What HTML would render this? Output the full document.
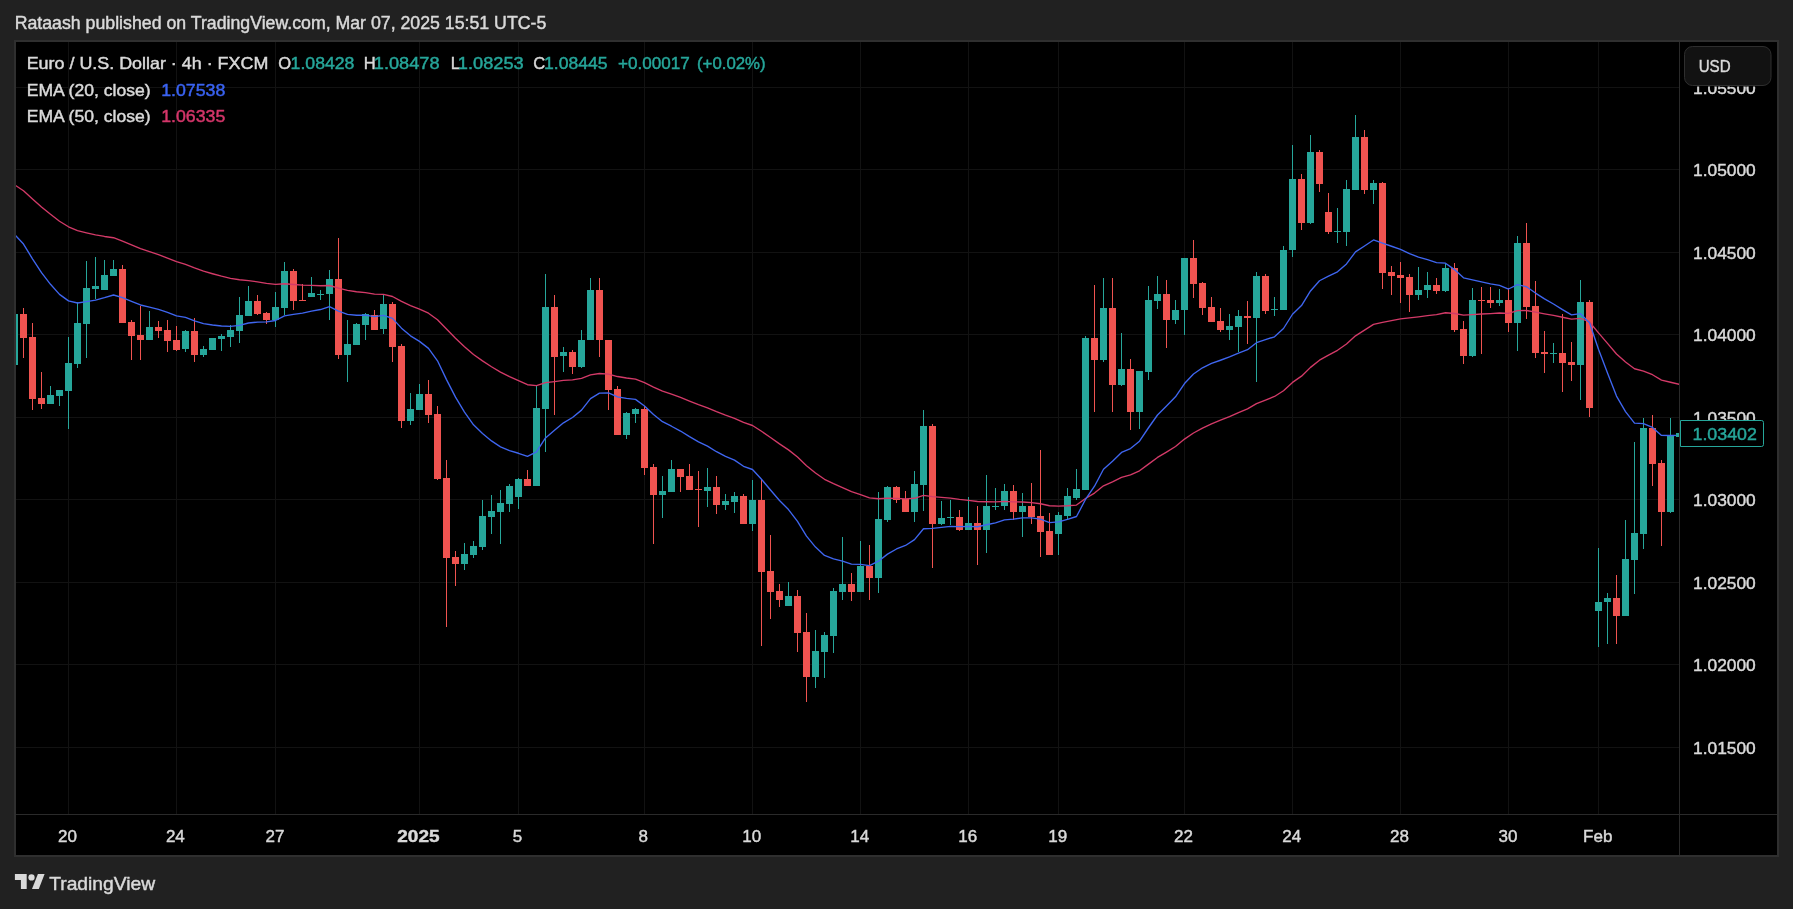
<!DOCTYPE html>
<html><head><meta charset="utf-8"><title>EURUSD chart</title><style>
html,body{margin:0;padding:0;background:#212121;}
body{width:1793px;height:909px;overflow:hidden;position:relative;}
svg{position:absolute;left:0;top:0;display:block;will-change:transform;}
text{font-family:"Liberation Sans",sans-serif;}
</style></head><body>
<svg width="1793" height="909" viewBox="0 0 1793 909">
<rect width="1793" height="909" fill="#212121"/>
<rect x="14" y="40" width="1765" height="817" fill="#2f2f2f"/>
<rect x="16" y="42" width="1761" height="813" fill="#000"/>
<rect x="16" y="87" width="1663" height="1" fill="#121212"/><rect x="16" y="169" width="1663" height="1" fill="#121212"/><rect x="16" y="252" width="1663" height="1" fill="#121212"/><rect x="16" y="334" width="1663" height="1" fill="#121212"/><rect x="16" y="417" width="1663" height="1" fill="#121212"/><rect x="16" y="499" width="1663" height="1" fill="#121212"/><rect x="16" y="582" width="1663" height="1" fill="#121212"/><rect x="16" y="664" width="1663" height="1" fill="#121212"/><rect x="16" y="747" width="1663" height="1" fill="#121212"/><rect x="68" y="42" width="1" height="772" fill="#121212"/><rect x="176" y="42" width="1" height="772" fill="#121212"/><rect x="275" y="42" width="1" height="772" fill="#121212"/><rect x="419" y="42" width="1" height="772" fill="#121212"/><rect x="518" y="42" width="1" height="772" fill="#121212"/><rect x="644" y="42" width="1" height="772" fill="#121212"/><rect x="752" y="42" width="1" height="772" fill="#121212"/><rect x="860" y="42" width="1" height="772" fill="#121212"/><rect x="968" y="42" width="1" height="772" fill="#121212"/><rect x="1058" y="42" width="1" height="772" fill="#121212"/><rect x="1184" y="42" width="1" height="772" fill="#121212"/><rect x="1292" y="42" width="1" height="772" fill="#121212"/><rect x="1400" y="42" width="1" height="772" fill="#121212"/><rect x="1508" y="42" width="1" height="772" fill="#121212"/><rect x="1598" y="42" width="1" height="772" fill="#121212"/>
<rect x="16" y="814" width="1761" height="1" fill="#2a2a2a"/>
<rect x="1679" y="42" width="1" height="813" fill="#2a2a2a"/>
<defs><clipPath id="pane"><rect x="16" y="41" width="1663" height="773"/></clipPath></defs>
<g clip-path="url(#pane)" shape-rendering="crispEdges">
<rect x="14" y="310" width="1" height="60" fill="#26a69a"/><rect x="11" y="314" width="7" height="51" fill="#26a69a"/><rect x="23" y="308" width="1" height="50" fill="#ef5350"/><rect x="20" y="314" width="7" height="24" fill="#ef5350"/><rect x="32" y="323" width="1" height="87" fill="#ef5350"/><rect x="29" y="337" width="7" height="62" fill="#ef5350"/><rect x="41" y="372" width="1" height="37" fill="#ef5350"/><rect x="38" y="398" width="7" height="6" fill="#ef5350"/><rect x="50" y="386" width="1" height="18" fill="#26a69a"/><rect x="47" y="395" width="7" height="9" fill="#26a69a"/><rect x="59" y="390" width="1" height="16" fill="#26a69a"/><rect x="56" y="390" width="7" height="6" fill="#26a69a"/><rect x="68" y="337" width="1" height="92" fill="#26a69a"/><rect x="65" y="363" width="7" height="28" fill="#26a69a"/><rect x="77" y="302" width="1" height="66" fill="#26a69a"/><rect x="74" y="323" width="7" height="41" fill="#26a69a"/><rect x="86" y="261" width="1" height="97" fill="#26a69a"/><rect x="83" y="288" width="7" height="36" fill="#26a69a"/><rect x="95" y="257" width="1" height="42" fill="#26a69a"/><rect x="92" y="286" width="7" height="3" fill="#26a69a"/><rect x="104" y="260" width="1" height="30" fill="#26a69a"/><rect x="101" y="275" width="7" height="15" fill="#26a69a"/><rect x="113" y="260" width="1" height="16" fill="#26a69a"/><rect x="110" y="269" width="7" height="7" fill="#26a69a"/><rect x="122" y="265" width="1" height="58" fill="#ef5350"/><rect x="119" y="269" width="7" height="54" fill="#ef5350"/><rect x="131" y="320" width="1" height="40" fill="#ef5350"/><rect x="128" y="322" width="7" height="14" fill="#ef5350"/><rect x="140" y="306" width="1" height="54" fill="#ef5350"/><rect x="137" y="335" width="7" height="5" fill="#ef5350"/><rect x="149" y="311" width="1" height="29" fill="#26a69a"/><rect x="146" y="327" width="7" height="13" fill="#26a69a"/><rect x="158" y="321" width="1" height="17" fill="#ef5350"/><rect x="155" y="327" width="7" height="4" fill="#ef5350"/><rect x="167" y="320" width="1" height="32" fill="#ef5350"/><rect x="164" y="330" width="7" height="11" fill="#ef5350"/><rect x="176" y="326" width="1" height="25" fill="#ef5350"/><rect x="173" y="340" width="7" height="10" fill="#ef5350"/><rect x="185" y="330" width="1" height="22" fill="#26a69a"/><rect x="182" y="331" width="7" height="18" fill="#26a69a"/><rect x="194" y="318" width="1" height="44" fill="#ef5350"/><rect x="191" y="331" width="7" height="24" fill="#ef5350"/><rect x="203" y="346" width="1" height="11" fill="#26a69a"/><rect x="200" y="349" width="7" height="6" fill="#26a69a"/><rect x="212" y="338" width="1" height="12" fill="#26a69a"/><rect x="209" y="338" width="7" height="12" fill="#26a69a"/><rect x="221" y="334" width="1" height="17" fill="#26a69a"/><rect x="218" y="336" width="7" height="3" fill="#26a69a"/><rect x="230" y="325" width="1" height="22" fill="#26a69a"/><rect x="227" y="330" width="7" height="7" fill="#26a69a"/><rect x="239" y="297" width="1" height="46" fill="#26a69a"/><rect x="236" y="315" width="7" height="16" fill="#26a69a"/><rect x="248" y="286" width="1" height="30" fill="#26a69a"/><rect x="245" y="301" width="7" height="15" fill="#26a69a"/><rect x="257" y="295" width="1" height="20" fill="#ef5350"/><rect x="254" y="301" width="7" height="13" fill="#ef5350"/><rect x="266" y="312" width="1" height="12" fill="#ef5350"/><rect x="263" y="313" width="7" height="7" fill="#ef5350"/><rect x="275" y="292" width="1" height="35" fill="#26a69a"/><rect x="272" y="307" width="7" height="13" fill="#26a69a"/><rect x="284" y="262" width="1" height="53" fill="#26a69a"/><rect x="281" y="271" width="7" height="37" fill="#26a69a"/><rect x="293" y="269" width="1" height="41" fill="#ef5350"/><rect x="290" y="271" width="7" height="30" fill="#ef5350"/><rect x="302" y="284" width="1" height="17" fill="#ef5350"/><rect x="299" y="300" width="7" height="1" fill="#ef5350"/><rect x="311" y="277" width="1" height="20" fill="#26a69a"/><rect x="308" y="293" width="7" height="4" fill="#26a69a"/><rect x="320" y="290" width="1" height="10" fill="#26a69a"/><rect x="317" y="294" width="7" height="1" fill="#26a69a"/><rect x="329" y="270" width="1" height="50" fill="#26a69a"/><rect x="326" y="279" width="7" height="15" fill="#26a69a"/><rect x="338" y="238" width="1" height="121" fill="#ef5350"/><rect x="335" y="279" width="7" height="76" fill="#ef5350"/><rect x="347" y="320" width="1" height="62" fill="#26a69a"/><rect x="344" y="344" width="7" height="11" fill="#26a69a"/><rect x="356" y="323" width="1" height="22" fill="#26a69a"/><rect x="353" y="324" width="7" height="21" fill="#26a69a"/><rect x="365" y="313" width="1" height="27" fill="#26a69a"/><rect x="362" y="314" width="7" height="11" fill="#26a69a"/><rect x="374" y="310" width="1" height="20" fill="#ef5350"/><rect x="371" y="315" width="7" height="15" fill="#ef5350"/><rect x="383" y="294" width="1" height="40" fill="#26a69a"/><rect x="380" y="304" width="7" height="25" fill="#26a69a"/><rect x="392" y="302" width="1" height="60" fill="#ef5350"/><rect x="389" y="304" width="7" height="43" fill="#ef5350"/><rect x="401" y="344" width="1" height="84" fill="#ef5350"/><rect x="398" y="346" width="7" height="75" fill="#ef5350"/><rect x="410" y="393" width="1" height="32" fill="#26a69a"/><rect x="407" y="409" width="7" height="12" fill="#26a69a"/><rect x="419" y="384" width="1" height="26" fill="#26a69a"/><rect x="416" y="394" width="7" height="16" fill="#26a69a"/><rect x="428" y="380" width="1" height="43" fill="#ef5350"/><rect x="425" y="394" width="7" height="21" fill="#ef5350"/><rect x="437" y="406" width="1" height="74" fill="#ef5350"/><rect x="434" y="414" width="7" height="65" fill="#ef5350"/><rect x="446" y="460" width="1" height="167" fill="#ef5350"/><rect x="443" y="478" width="7" height="80" fill="#ef5350"/><rect x="455" y="551" width="1" height="35" fill="#ef5350"/><rect x="452" y="557" width="7" height="7" fill="#ef5350"/><rect x="464" y="543" width="1" height="27" fill="#26a69a"/><rect x="461" y="554" width="7" height="10" fill="#26a69a"/><rect x="473" y="541" width="1" height="17" fill="#26a69a"/><rect x="470" y="546" width="7" height="9" fill="#26a69a"/><rect x="482" y="500" width="1" height="50" fill="#26a69a"/><rect x="479" y="516" width="7" height="31" fill="#26a69a"/><rect x="491" y="495" width="1" height="39" fill="#26a69a"/><rect x="488" y="511" width="7" height="6" fill="#26a69a"/><rect x="500" y="490" width="1" height="54" fill="#26a69a"/><rect x="497" y="503" width="7" height="9" fill="#26a69a"/><rect x="509" y="484" width="1" height="28" fill="#26a69a"/><rect x="506" y="486" width="7" height="18" fill="#26a69a"/><rect x="518" y="478" width="1" height="31" fill="#26a69a"/><rect x="515" y="479" width="7" height="18" fill="#26a69a"/><rect x="527" y="470" width="1" height="16" fill="#ef5350"/><rect x="524" y="479" width="7" height="7" fill="#ef5350"/><rect x="536" y="386" width="1" height="100" fill="#26a69a"/><rect x="533" y="408" width="7" height="78" fill="#26a69a"/><rect x="545" y="274" width="1" height="178" fill="#26a69a"/><rect x="542" y="307" width="7" height="102" fill="#26a69a"/><rect x="554" y="295" width="1" height="120" fill="#ef5350"/><rect x="551" y="307" width="7" height="50" fill="#ef5350"/><rect x="563" y="347" width="1" height="25" fill="#26a69a"/><rect x="560" y="352" width="7" height="4" fill="#26a69a"/><rect x="572" y="350" width="1" height="24" fill="#ef5350"/><rect x="569" y="352" width="7" height="15" fill="#ef5350"/><rect x="581" y="330" width="1" height="38" fill="#26a69a"/><rect x="578" y="340" width="7" height="27" fill="#26a69a"/><rect x="590" y="278" width="1" height="62" fill="#26a69a"/><rect x="587" y="290" width="7" height="50" fill="#26a69a"/><rect x="599" y="278" width="1" height="79" fill="#ef5350"/><rect x="596" y="290" width="7" height="50" fill="#ef5350"/><rect x="608" y="340" width="1" height="70" fill="#ef5350"/><rect x="605" y="340" width="7" height="50" fill="#ef5350"/><rect x="617" y="386" width="1" height="49" fill="#ef5350"/><rect x="614" y="389" width="7" height="46" fill="#ef5350"/><rect x="626" y="412" width="1" height="27" fill="#26a69a"/><rect x="623" y="413" width="7" height="22" fill="#26a69a"/><rect x="635" y="408" width="1" height="15" fill="#26a69a"/><rect x="632" y="409" width="7" height="5" fill="#26a69a"/><rect x="644" y="406" width="1" height="69" fill="#ef5350"/><rect x="641" y="409" width="7" height="59" fill="#ef5350"/><rect x="653" y="464" width="1" height="80" fill="#ef5350"/><rect x="650" y="467" width="7" height="28" fill="#ef5350"/><rect x="662" y="476" width="1" height="42" fill="#26a69a"/><rect x="659" y="491" width="7" height="4" fill="#26a69a"/><rect x="671" y="460" width="1" height="32" fill="#26a69a"/><rect x="668" y="469" width="7" height="23" fill="#26a69a"/><rect x="680" y="469" width="1" height="23" fill="#ef5350"/><rect x="677" y="469" width="7" height="8" fill="#ef5350"/><rect x="689" y="464" width="1" height="26" fill="#ef5350"/><rect x="686" y="476" width="7" height="14" fill="#ef5350"/><rect x="698" y="471" width="1" height="56" fill="#ef5350"/><rect x="695" y="489" width="7" height="1" fill="#ef5350"/><rect x="707" y="468" width="1" height="39" fill="#26a69a"/><rect x="704" y="487" width="7" height="4" fill="#26a69a"/><rect x="716" y="476" width="1" height="38" fill="#ef5350"/><rect x="713" y="487" width="7" height="18" fill="#ef5350"/><rect x="725" y="494" width="1" height="16" fill="#26a69a"/><rect x="722" y="501" width="7" height="4" fill="#26a69a"/><rect x="734" y="492" width="1" height="21" fill="#26a69a"/><rect x="731" y="496" width="7" height="6" fill="#26a69a"/><rect x="743" y="494" width="1" height="30" fill="#ef5350"/><rect x="740" y="496" width="7" height="28" fill="#ef5350"/><rect x="752" y="480" width="1" height="51" fill="#26a69a"/><rect x="749" y="500" width="7" height="24" fill="#26a69a"/><rect x="761" y="480" width="1" height="166" fill="#ef5350"/><rect x="758" y="500" width="7" height="72" fill="#ef5350"/><rect x="770" y="535" width="1" height="84" fill="#ef5350"/><rect x="767" y="571" width="7" height="21" fill="#ef5350"/><rect x="779" y="584" width="1" height="23" fill="#ef5350"/><rect x="776" y="591" width="7" height="9" fill="#ef5350"/><rect x="788" y="582" width="1" height="24" fill="#26a69a"/><rect x="785" y="596" width="7" height="10" fill="#26a69a"/><rect x="797" y="590" width="1" height="62" fill="#ef5350"/><rect x="794" y="596" width="7" height="37" fill="#ef5350"/><rect x="806" y="613" width="1" height="89" fill="#ef5350"/><rect x="803" y="632" width="7" height="45" fill="#ef5350"/><rect x="815" y="630" width="1" height="58" fill="#26a69a"/><rect x="812" y="651" width="7" height="26" fill="#26a69a"/><rect x="824" y="632" width="1" height="46" fill="#26a69a"/><rect x="821" y="635" width="7" height="17" fill="#26a69a"/><rect x="833" y="588" width="1" height="65" fill="#26a69a"/><rect x="830" y="591" width="7" height="45" fill="#26a69a"/><rect x="842" y="537" width="1" height="63" fill="#26a69a"/><rect x="839" y="584" width="7" height="8" fill="#26a69a"/><rect x="851" y="573" width="1" height="28" fill="#ef5350"/><rect x="848" y="584" width="7" height="8" fill="#ef5350"/><rect x="860" y="541" width="1" height="51" fill="#26a69a"/><rect x="857" y="566" width="7" height="26" fill="#26a69a"/><rect x="869" y="545" width="1" height="55" fill="#ef5350"/><rect x="866" y="566" width="7" height="12" fill="#ef5350"/><rect x="878" y="492" width="1" height="101" fill="#26a69a"/><rect x="875" y="519" width="7" height="59" fill="#26a69a"/><rect x="887" y="486" width="1" height="36" fill="#26a69a"/><rect x="884" y="487" width="7" height="33" fill="#26a69a"/><rect x="896" y="486" width="1" height="17" fill="#ef5350"/><rect x="893" y="487" width="7" height="13" fill="#ef5350"/><rect x="905" y="491" width="1" height="21" fill="#ef5350"/><rect x="902" y="499" width="7" height="13" fill="#ef5350"/><rect x="914" y="471" width="1" height="51" fill="#26a69a"/><rect x="911" y="484" width="7" height="28" fill="#26a69a"/><rect x="923" y="410" width="1" height="101" fill="#26a69a"/><rect x="920" y="426" width="7" height="59" fill="#26a69a"/><rect x="932" y="424" width="1" height="144" fill="#ef5350"/><rect x="929" y="426" width="7" height="98" fill="#ef5350"/><rect x="941" y="501" width="1" height="24" fill="#26a69a"/><rect x="938" y="518" width="7" height="6" fill="#26a69a"/><rect x="950" y="500" width="1" height="25" fill="#26a69a"/><rect x="947" y="517" width="7" height="1" fill="#26a69a"/><rect x="959" y="510" width="1" height="21" fill="#ef5350"/><rect x="956" y="517" width="7" height="13" fill="#ef5350"/><rect x="968" y="497" width="1" height="33" fill="#26a69a"/><rect x="965" y="523" width="7" height="7" fill="#26a69a"/><rect x="977" y="506" width="1" height="59" fill="#ef5350"/><rect x="974" y="523" width="7" height="7" fill="#ef5350"/><rect x="986" y="475" width="1" height="78" fill="#26a69a"/><rect x="983" y="506" width="7" height="24" fill="#26a69a"/><rect x="995" y="488" width="1" height="22" fill="#26a69a"/><rect x="992" y="506" width="7" height="1" fill="#26a69a"/><rect x="1004" y="484" width="1" height="26" fill="#26a69a"/><rect x="1001" y="491" width="7" height="15" fill="#26a69a"/><rect x="1013" y="485" width="1" height="35" fill="#ef5350"/><rect x="1010" y="491" width="7" height="21" fill="#ef5350"/><rect x="1022" y="493" width="1" height="44" fill="#26a69a"/><rect x="1019" y="506" width="7" height="6" fill="#26a69a"/><rect x="1031" y="483" width="1" height="41" fill="#ef5350"/><rect x="1028" y="506" width="7" height="11" fill="#ef5350"/><rect x="1040" y="450" width="1" height="107" fill="#ef5350"/><rect x="1037" y="516" width="7" height="16" fill="#ef5350"/><rect x="1049" y="513" width="1" height="42" fill="#ef5350"/><rect x="1046" y="531" width="7" height="24" fill="#ef5350"/><rect x="1058" y="512" width="1" height="43" fill="#26a69a"/><rect x="1055" y="515" width="7" height="19" fill="#26a69a"/><rect x="1067" y="488" width="1" height="32" fill="#26a69a"/><rect x="1064" y="496" width="7" height="20" fill="#26a69a"/><rect x="1076" y="469" width="1" height="31" fill="#26a69a"/><rect x="1073" y="489" width="7" height="9" fill="#26a69a"/><rect x="1085" y="336" width="1" height="154" fill="#26a69a"/><rect x="1082" y="338" width="7" height="152" fill="#26a69a"/><rect x="1094" y="285" width="1" height="127" fill="#ef5350"/><rect x="1091" y="338" width="7" height="22" fill="#ef5350"/><rect x="1103" y="278" width="1" height="84" fill="#26a69a"/><rect x="1100" y="308" width="7" height="52" fill="#26a69a"/><rect x="1112" y="278" width="1" height="134" fill="#ef5350"/><rect x="1109" y="308" width="7" height="77" fill="#ef5350"/><rect x="1121" y="333" width="1" height="53" fill="#26a69a"/><rect x="1118" y="369" width="7" height="16" fill="#26a69a"/><rect x="1130" y="359" width="1" height="71" fill="#ef5350"/><rect x="1127" y="369" width="7" height="43" fill="#ef5350"/><rect x="1139" y="371" width="1" height="58" fill="#26a69a"/><rect x="1136" y="371" width="7" height="41" fill="#26a69a"/><rect x="1148" y="286" width="1" height="94" fill="#26a69a"/><rect x="1145" y="300" width="7" height="72" fill="#26a69a"/><rect x="1157" y="276" width="1" height="33" fill="#26a69a"/><rect x="1154" y="294" width="7" height="7" fill="#26a69a"/><rect x="1166" y="280" width="1" height="68" fill="#ef5350"/><rect x="1163" y="294" width="7" height="26" fill="#ef5350"/><rect x="1175" y="300" width="1" height="24" fill="#26a69a"/><rect x="1172" y="310" width="7" height="10" fill="#26a69a"/><rect x="1184" y="258" width="1" height="77" fill="#26a69a"/><rect x="1181" y="258" width="7" height="52" fill="#26a69a"/><rect x="1193" y="240" width="1" height="58" fill="#ef5350"/><rect x="1190" y="258" width="7" height="26" fill="#ef5350"/><rect x="1202" y="282" width="1" height="33" fill="#ef5350"/><rect x="1199" y="283" width="7" height="25" fill="#ef5350"/><rect x="1211" y="297" width="1" height="25" fill="#ef5350"/><rect x="1208" y="307" width="7" height="15" fill="#ef5350"/><rect x="1220" y="308" width="1" height="24" fill="#ef5350"/><rect x="1217" y="321" width="7" height="9" fill="#ef5350"/><rect x="1229" y="314" width="1" height="26" fill="#26a69a"/><rect x="1226" y="326" width="7" height="4" fill="#26a69a"/><rect x="1238" y="310" width="1" height="42" fill="#26a69a"/><rect x="1235" y="316" width="7" height="11" fill="#26a69a"/><rect x="1247" y="301" width="1" height="43" fill="#ef5350"/><rect x="1244" y="316" width="7" height="2" fill="#ef5350"/><rect x="1256" y="272" width="1" height="110" fill="#26a69a"/><rect x="1253" y="276" width="7" height="42" fill="#26a69a"/><rect x="1265" y="274" width="1" height="40" fill="#ef5350"/><rect x="1262" y="276" width="7" height="35" fill="#ef5350"/><rect x="1274" y="297" width="1" height="19" fill="#26a69a"/><rect x="1271" y="309" width="7" height="1" fill="#26a69a"/><rect x="1283" y="246" width="1" height="64" fill="#26a69a"/><rect x="1280" y="250" width="7" height="60" fill="#26a69a"/><rect x="1292" y="145" width="1" height="112" fill="#26a69a"/><rect x="1289" y="179" width="7" height="71" fill="#26a69a"/><rect x="1301" y="174" width="1" height="56" fill="#ef5350"/><rect x="1298" y="179" width="7" height="44" fill="#ef5350"/><rect x="1310" y="135" width="1" height="89" fill="#26a69a"/><rect x="1307" y="152" width="7" height="71" fill="#26a69a"/><rect x="1319" y="150" width="1" height="42" fill="#ef5350"/><rect x="1316" y="152" width="7" height="32" fill="#ef5350"/><rect x="1328" y="193" width="1" height="41" fill="#ef5350"/><rect x="1325" y="212" width="7" height="20" fill="#ef5350"/><rect x="1337" y="208" width="1" height="35" fill="#26a69a"/><rect x="1334" y="231" width="7" height="1" fill="#26a69a"/><rect x="1346" y="180" width="1" height="66" fill="#26a69a"/><rect x="1343" y="189" width="7" height="43" fill="#26a69a"/><rect x="1355" y="115" width="1" height="75" fill="#26a69a"/><rect x="1352" y="137" width="7" height="53" fill="#26a69a"/><rect x="1364" y="130" width="1" height="64" fill="#ef5350"/><rect x="1361" y="137" width="7" height="53" fill="#ef5350"/><rect x="1373" y="180" width="1" height="24" fill="#26a69a"/><rect x="1370" y="183" width="7" height="7" fill="#26a69a"/><rect x="1382" y="182" width="1" height="107" fill="#ef5350"/><rect x="1379" y="183" width="7" height="90" fill="#ef5350"/><rect x="1391" y="266" width="1" height="29" fill="#ef5350"/><rect x="1388" y="272" width="7" height="4" fill="#ef5350"/><rect x="1400" y="262" width="1" height="41" fill="#ef5350"/><rect x="1397" y="275" width="7" height="3" fill="#ef5350"/><rect x="1409" y="274" width="1" height="38" fill="#ef5350"/><rect x="1406" y="277" width="7" height="18" fill="#ef5350"/><rect x="1418" y="267" width="1" height="33" fill="#26a69a"/><rect x="1415" y="290" width="7" height="5" fill="#26a69a"/><rect x="1427" y="272" width="1" height="26" fill="#26a69a"/><rect x="1424" y="285" width="7" height="5" fill="#26a69a"/><rect x="1436" y="278" width="1" height="16" fill="#ef5350"/><rect x="1433" y="285" width="7" height="6" fill="#ef5350"/><rect x="1445" y="264" width="1" height="28" fill="#26a69a"/><rect x="1442" y="268" width="7" height="23" fill="#26a69a"/><rect x="1454" y="263" width="1" height="69" fill="#ef5350"/><rect x="1451" y="268" width="7" height="62" fill="#ef5350"/><rect x="1463" y="321" width="1" height="43" fill="#ef5350"/><rect x="1460" y="329" width="7" height="27" fill="#ef5350"/><rect x="1472" y="288" width="1" height="69" fill="#26a69a"/><rect x="1469" y="300" width="7" height="56" fill="#26a69a"/><rect x="1481" y="287" width="1" height="67" fill="#ef5350"/><rect x="1478" y="300" width="7" height="1" fill="#ef5350"/><rect x="1490" y="287" width="1" height="21" fill="#ef5350"/><rect x="1487" y="300" width="7" height="3" fill="#ef5350"/><rect x="1499" y="289" width="1" height="17" fill="#26a69a"/><rect x="1496" y="300" width="7" height="3" fill="#26a69a"/><rect x="1508" y="288" width="1" height="44" fill="#ef5350"/><rect x="1505" y="300" width="7" height="23" fill="#ef5350"/><rect x="1517" y="236" width="1" height="115" fill="#26a69a"/><rect x="1514" y="243" width="7" height="80" fill="#26a69a"/><rect x="1526" y="223" width="1" height="96" fill="#ef5350"/><rect x="1523" y="243" width="7" height="64" fill="#ef5350"/><rect x="1535" y="281" width="1" height="77" fill="#ef5350"/><rect x="1532" y="306" width="7" height="47" fill="#ef5350"/><rect x="1544" y="331" width="1" height="42" fill="#ef5350"/><rect x="1541" y="352" width="7" height="2" fill="#ef5350"/><rect x="1553" y="343" width="1" height="20" fill="#26a69a"/><rect x="1550" y="353" width="7" height="1" fill="#26a69a"/><rect x="1562" y="314" width="1" height="78" fill="#ef5350"/><rect x="1559" y="353" width="7" height="10" fill="#ef5350"/><rect x="1571" y="342" width="1" height="39" fill="#ef5350"/><rect x="1568" y="362" width="7" height="3" fill="#ef5350"/><rect x="1580" y="280" width="1" height="120" fill="#26a69a"/><rect x="1577" y="302" width="7" height="63" fill="#26a69a"/><rect x="1589" y="300" width="1" height="117" fill="#ef5350"/><rect x="1586" y="302" width="7" height="106" fill="#ef5350"/><rect x="1598" y="548" width="1" height="99" fill="#26a69a"/><rect x="1595" y="602" width="7" height="9" fill="#26a69a"/><rect x="1607" y="593" width="1" height="51" fill="#26a69a"/><rect x="1604" y="598" width="7" height="4" fill="#26a69a"/><rect x="1616" y="575" width="1" height="69" fill="#ef5350"/><rect x="1613" y="598" width="7" height="18" fill="#ef5350"/><rect x="1625" y="520" width="1" height="96" fill="#26a69a"/><rect x="1622" y="559" width="7" height="57" fill="#26a69a"/><rect x="1634" y="442" width="1" height="152" fill="#26a69a"/><rect x="1631" y="533" width="7" height="27" fill="#26a69a"/><rect x="1643" y="418" width="1" height="131" fill="#26a69a"/><rect x="1640" y="428" width="7" height="106" fill="#26a69a"/><rect x="1652" y="415" width="1" height="71" fill="#ef5350"/><rect x="1649" y="428" width="7" height="36" fill="#ef5350"/><rect x="1661" y="460" width="1" height="86" fill="#ef5350"/><rect x="1658" y="463" width="7" height="49" fill="#ef5350"/><rect x="1670" y="418" width="1" height="95" fill="#26a69a"/><rect x="1667" y="436" width="7" height="76" fill="#26a69a"/>
</g>
<g clip-path="url(#pane)" fill="none" stroke-linejoin="round" stroke-linecap="butt">
<polyline points="14.50,184.75 23.50,190.74 32.50,198.91 41.50,206.95 50.50,214.32 59.50,221.21 68.50,226.77 77.50,230.55 86.50,232.80 95.50,234.89 104.50,236.46 113.50,237.74 122.50,241.08 131.50,244.80 140.50,248.54 149.50,251.61 158.50,254.73 167.50,258.11 176.50,261.69 185.50,264.41 194.50,267.96 203.50,271.14 212.50,273.76 221.50,276.20 230.50,278.31 239.50,279.75 248.50,280.59 257.50,281.90 266.50,283.39 275.50,284.32 284.50,283.79 293.50,284.47 302.50,285.12 311.50,285.43 320.50,285.74 329.50,285.48 338.50,288.20 347.50,290.39 356.50,291.71 365.50,292.60 374.50,294.05 383.50,294.44 392.50,296.50 401.50,301.38 410.50,305.60 419.50,309.07 428.50,313.23 437.50,319.73 446.50,329.07 455.50,338.28 464.50,346.74 473.50,354.56 482.50,360.89 491.50,366.77 500.50,372.12 509.50,376.58 518.50,380.60 527.50,384.73 536.50,385.65 545.50,382.56 554.50,381.56 563.50,380.40 572.50,379.87 581.50,378.31 590.50,374.85 599.50,373.50 608.50,374.15 617.50,376.53 626.50,377.96 635.50,379.18 644.50,382.66 653.50,387.07 662.50,391.14 671.50,394.20 680.50,397.45 689.50,401.07 698.50,404.58 707.50,407.81 716.50,411.62 725.50,415.13 734.50,418.30 743.50,422.47 752.50,425.51 761.50,431.25 770.50,437.56 779.50,443.91 788.50,449.87 797.50,457.05 806.50,465.68 815.50,472.94 824.50,479.30 833.50,483.68 842.50,487.61 851.50,491.71 860.50,494.62 869.50,497.89 878.50,498.72 887.50,498.26 896.50,498.33 905.50,498.86 914.50,498.28 923.50,495.45 932.50,496.57 941.50,497.41 950.50,498.18 959.50,499.42 968.50,500.35 977.50,501.53 986.50,501.71 995.50,501.85 1004.50,501.43 1013.50,501.84 1022.50,502.01 1031.50,502.59 1040.50,503.75 1049.50,505.76 1058.50,506.12 1067.50,505.72 1076.50,505.07 1085.50,498.52 1094.50,493.08 1103.50,485.83 1112.50,481.87 1121.50,477.44 1130.50,474.88 1139.50,470.80 1148.50,464.11 1157.50,457.44 1166.50,452.05 1175.50,446.46 1184.50,439.07 1193.50,432.98 1202.50,428.08 1211.50,423.92 1220.50,420.24 1229.50,416.54 1238.50,412.60 1247.50,408.89 1256.50,403.68 1265.50,400.05 1274.50,396.48 1283.50,390.73 1292.50,382.42 1301.50,376.17 1310.50,367.38 1319.50,360.18 1328.50,355.18 1337.50,350.31 1346.50,343.98 1355.50,335.86 1364.50,330.14 1373.50,324.37 1382.50,322.36 1391.50,320.54 1400.50,318.87 1409.50,317.94 1418.50,316.82 1427.50,315.57 1436.50,314.61 1445.50,312.78 1454.50,313.48 1463.50,315.14 1472.50,314.55 1481.50,314.02 1490.50,313.59 1499.50,313.03 1508.50,313.43 1517.50,310.66 1526.50,310.52 1535.50,312.19 1544.50,313.83 1553.50,315.36 1562.50,317.23 1571.50,319.10 1580.50,318.43 1589.50,321.95 1598.50,332.93 1607.50,343.32 1616.50,354.02 1625.50,362.05 1634.50,368.76 1643.50,371.08 1652.50,374.71 1661.50,380.07 1670.50,382.26 1679.50,384.32" stroke="#d33a68" stroke-width="1.35"/>
<polyline points="14.50,234.25 23.50,244.08 32.50,258.84 41.50,272.66 50.50,284.31 59.50,294.38 68.50,300.91 77.50,303.02 86.50,301.59 95.50,300.10 104.50,297.71 113.50,294.98 122.50,297.65 131.50,301.30 140.50,304.98 149.50,307.08 158.50,309.36 167.50,312.37 176.50,315.91 185.50,317.35 194.50,320.93 203.50,323.61 212.50,324.98 221.50,326.03 230.50,326.40 239.50,325.32 248.50,323.00 257.50,322.15 266.50,321.94 275.50,320.52 284.50,315.80 293.50,314.39 302.50,313.12 311.50,311.20 320.50,309.52 329.50,306.61 338.50,311.22 347.50,314.34 356.50,315.26 365.50,315.19 374.50,316.55 383.50,315.36 392.50,318.37 401.50,328.14 410.50,335.84 419.50,341.38 428.50,348.39 437.50,360.83 446.50,379.61 455.50,397.17 464.50,412.11 473.50,424.86 482.50,433.54 491.50,440.92 500.50,446.83 509.50,450.56 518.50,453.27 527.50,456.39 536.50,451.78 545.50,437.99 554.50,430.28 563.50,422.82 572.50,417.50 581.50,410.12 590.50,398.68 599.50,393.14 608.50,392.84 617.50,396.86 626.50,398.39 635.50,399.40 644.50,405.94 653.50,414.42 662.50,421.71 671.50,426.22 680.50,431.05 689.50,436.67 698.50,441.79 707.50,446.10 716.50,451.71 725.50,456.40 734.50,460.17 743.50,466.30 752.50,469.51 761.50,479.27 770.50,490.01 779.50,500.44 788.50,509.54 797.50,521.29 806.50,536.12 815.50,547.06 824.50,555.44 833.50,558.83 842.50,561.22 851.50,564.15 860.50,564.33 869.50,565.63 878.50,561.19 887.50,554.13 896.50,548.97 905.50,545.45 914.50,539.60 923.50,528.78 932.50,528.32 941.50,527.34 950.50,526.36 959.50,526.70 968.50,526.35 977.50,526.75 986.50,524.77 995.50,522.93 1004.50,519.89 1013.50,519.14 1022.50,517.89 1031.50,517.80 1040.50,519.16 1049.50,522.57 1058.50,521.85 1067.50,519.39 1076.50,516.49 1085.50,499.49 1094.50,486.21 1103.50,469.24 1112.50,461.21 1121.50,452.43 1130.50,448.58 1139.50,441.19 1148.50,427.75 1157.50,415.01 1166.50,405.96 1175.50,396.77 1184.50,383.56 1193.50,374.07 1202.50,367.78 1211.50,363.42 1220.50,360.24 1229.50,356.98 1238.50,353.08 1247.50,349.73 1256.50,342.71 1265.50,339.69 1274.50,336.77 1283.50,328.51 1292.50,314.24 1301.50,305.55 1310.50,290.93 1319.50,280.75 1328.50,276.15 1337.50,271.85 1346.50,263.96 1355.50,251.87 1364.50,245.98 1373.50,239.98 1382.50,243.12 1391.50,246.25 1400.50,249.28 1409.50,253.63 1418.50,257.05 1427.50,259.71 1436.50,262.69 1445.50,263.20 1454.50,269.61 1463.50,277.83 1472.50,279.95 1481.50,281.95 1490.50,283.95 1499.50,285.44 1508.50,289.01 1517.50,284.63 1526.50,286.76 1535.50,293.07 1544.50,298.87 1553.50,304.03 1562.50,309.64 1571.50,314.92 1580.50,313.69 1589.50,322.67 1598.50,349.27 1607.50,372.96 1616.50,396.11 1625.50,411.62 1634.50,423.18 1643.50,423.64 1652.50,427.44 1661.50,435.44 1670.50,435.48 1679.50,435.43" stroke="#3f66f0" stroke-width="1.35"/>
</g>
<rect x="1676" y="433" width="3" height="4" fill="#26a69a"/>
<text id="hdr" x="14.69" y="29.00" font-size="17.5" fill="#d9d9d9" textLength="531.61" lengthAdjust="spacingAndGlyphs" stroke="#d9d9d9" stroke-width="0.45">Rataash published on TradingView.com, Mar 07, 2025 15:51 UTC-5</text>
<text id="leg1" x="26.68" y="69.40" font-size="16.5" fill="#d9d9d9" textLength="241.65" lengthAdjust="spacingAndGlyphs" stroke="#d9d9d9" stroke-width="0.45">Euro / U.S. Dollar · 4h · FXCM</text>
<text id="lO" x="278.20" y="69.40" font-size="16.5" fill="#d9d9d9" stroke="#d9d9d9" stroke-width="0.45">O</text>
<text id="vO" x="290.62" y="69.40" font-size="16.5" fill="#26a69a" textLength="63.85" lengthAdjust="spacingAndGlyphs" stroke="#26a69a" stroke-width="0.45">1.08428</text>
<text id="lH" x="363.70" y="69.40" font-size="16.5" fill="#d9d9d9" stroke="#d9d9d9" stroke-width="0.45">H</text>
<text id="vH" x="373.87" y="69.40" font-size="16.5" fill="#26a69a" textLength="65.65" lengthAdjust="spacingAndGlyphs" stroke="#26a69a" stroke-width="0.45">1.08478</text>
<text id="lL" x="450.80" y="69.40" font-size="16.5" fill="#d9d9d9" stroke="#d9d9d9" stroke-width="0.45">L</text>
<text id="vL" x="457.87" y="69.40" font-size="16.5" fill="#26a69a" textLength="65.86" lengthAdjust="spacingAndGlyphs" stroke="#26a69a" stroke-width="0.45">1.08253</text>
<text id="lC" x="533.20" y="69.40" font-size="16.5" fill="#d9d9d9" stroke="#d9d9d9" stroke-width="0.45">C</text>
<text id="vC" x="544.02" y="69.40" font-size="16.5" fill="#26a69a" textLength="63.58" lengthAdjust="spacingAndGlyphs" stroke="#26a69a" stroke-width="0.45">1.08445</text>
<text id="chg" x="617.96" y="69.40" font-size="16.5" fill="#26a69a" textLength="71.77" lengthAdjust="spacingAndGlyphs" stroke="#26a69a" stroke-width="0.45">+0.00017</text>
<text id="pct" x="696.99" y="69.40" font-size="16.5" fill="#26a69a" textLength="68.67" lengthAdjust="spacingAndGlyphs" stroke="#26a69a" stroke-width="0.45">(+0.02%)</text>
<text id="ema20" x="26.71" y="95.70" font-size="16.5" fill="#d9d9d9" textLength="123.83" lengthAdjust="spacingAndGlyphs" stroke="#d9d9d9" stroke-width="0.45">EMA (20, close)</text>
<text id="ema20v" x="161.16" y="95.70" font-size="16.5" fill="#3a63f2" textLength="64.15" lengthAdjust="spacingAndGlyphs" stroke="#3a63f2" stroke-width="0.45">1.07538</text>
<text id="ema50" x="26.71" y="121.60" font-size="16.5" fill="#d9d9d9" textLength="123.83" lengthAdjust="spacingAndGlyphs" stroke="#d9d9d9" stroke-width="0.45">EMA (50, close)</text>
<text id="ema50v" x="161.16" y="121.60" font-size="16.5" fill="#d5366a" textLength="64.15" lengthAdjust="spacingAndGlyphs" stroke="#d5366a" stroke-width="0.45">1.06335</text>
<text id="p1" x="1693.06" y="93.80" font-size="17" fill="#d9d9d9" textLength="62.69" lengthAdjust="spacingAndGlyphs" stroke="#d9d9d9" stroke-width="0.45">1.05500</text>
<text id="p2" x="1693.06" y="175.80" font-size="17" fill="#d9d9d9" textLength="62.69" lengthAdjust="spacingAndGlyphs" stroke="#d9d9d9" stroke-width="0.45">1.05000</text>
<text id="p3" x="1693.06" y="258.80" font-size="17" fill="#d9d9d9" textLength="62.69" lengthAdjust="spacingAndGlyphs" stroke="#d9d9d9" stroke-width="0.45">1.04500</text>
<text id="p4" x="1693.06" y="340.80" font-size="17" fill="#d9d9d9" textLength="62.69" lengthAdjust="spacingAndGlyphs" stroke="#d9d9d9" stroke-width="0.45">1.04000</text>
<text id="p5" x="1693.06" y="423.80" font-size="17" fill="#d9d9d9" textLength="62.69" lengthAdjust="spacingAndGlyphs" stroke="#d9d9d9" stroke-width="0.45">1.03500</text>
<text id="p6" x="1693.06" y="505.80" font-size="17" fill="#d9d9d9" textLength="62.69" lengthAdjust="spacingAndGlyphs" stroke="#d9d9d9" stroke-width="0.45">1.03000</text>
<text id="p7" x="1693.06" y="588.80" font-size="17" fill="#d9d9d9" textLength="62.69" lengthAdjust="spacingAndGlyphs" stroke="#d9d9d9" stroke-width="0.45">1.02500</text>
<text id="p8" x="1693.06" y="670.80" font-size="17" fill="#d9d9d9" textLength="62.69" lengthAdjust="spacingAndGlyphs" stroke="#d9d9d9" stroke-width="0.45">1.02000</text>
<text id="p9" x="1693.06" y="753.80" font-size="17" fill="#d9d9d9" textLength="62.69" lengthAdjust="spacingAndGlyphs" stroke="#d9d9d9" stroke-width="0.45">1.01500</text>
<text id="t1" x="58.10" y="842.00" font-size="17" fill="#d9d9d9" stroke="#d9d9d9" stroke-width="0.45">20</text>
<text id="t2" x="165.90" y="842.00" font-size="17" fill="#d9d9d9" stroke="#d9d9d9" stroke-width="0.45">24</text>
<text id="t3" x="265.60" y="842.00" font-size="17" fill="#d9d9d9" stroke="#d9d9d9" stroke-width="0.45">27</text>
<text id="t4" x="397.29" y="842.00" font-size="17" fill="#d9d9d9" font-weight="bold" textLength="42.24" lengthAdjust="spacingAndGlyphs" stroke="#d9d9d9" stroke-width="0.45">2025</text>
<text id="t5" x="512.70" y="842.00" font-size="17" fill="#d9d9d9" stroke="#d9d9d9" stroke-width="0.45">5</text>
<text id="t6" x="638.60" y="842.00" font-size="17" fill="#d9d9d9" stroke="#d9d9d9" stroke-width="0.45">8</text>
<text id="t7" x="742.30" y="842.00" font-size="17" fill="#d9d9d9" stroke="#d9d9d9" stroke-width="0.45">10</text>
<text id="t8" x="850.20" y="842.00" font-size="17" fill="#d9d9d9" stroke="#d9d9d9" stroke-width="0.45">14</text>
<text id="t9" x="958.30" y="842.00" font-size="17" fill="#d9d9d9" stroke="#d9d9d9" stroke-width="0.45">16</text>
<text id="t10" x="1048.20" y="842.00" font-size="17" fill="#d9d9d9" stroke="#d9d9d9" stroke-width="0.45">19</text>
<text id="t11" x="1174.10" y="842.00" font-size="17" fill="#d9d9d9" stroke="#d9d9d9" stroke-width="0.45">22</text>
<text id="t12" x="1282.30" y="842.00" font-size="17" fill="#d9d9d9" stroke="#d9d9d9" stroke-width="0.45">24</text>
<text id="t13" x="1390.10" y="842.00" font-size="17" fill="#d9d9d9" stroke="#d9d9d9" stroke-width="0.45">28</text>
<text id="t14" x="1498.50" y="842.00" font-size="17" fill="#d9d9d9" stroke="#d9d9d9" stroke-width="0.45">30</text>
<text id="t15" x="1583.10" y="842.00" font-size="17" fill="#d9d9d9" stroke="#d9d9d9" stroke-width="0.45">Feb</text>
<rect x="1680" y="42" width="97" height="44.5" fill="#000"/>
<rect x="1684.5" y="46.5" width="86.5" height="39" rx="8" fill="#121212" stroke="#2e2e2e" stroke-width="1"/>
<text id="usd" x="1698.66" y="71.90" font-size="17" fill="#d9d9d9" textLength="31.90" lengthAdjust="spacingAndGlyphs" stroke="#d9d9d9" stroke-width="0.45">USD</text>
<path d="M1680.5,420.5 H1761.5 Q1763.5,420.5 1763.5,422.5 V444.5 Q1763.5,446.5 1761.5,446.5 H1680.5 Z" fill="#000" stroke="#26a69a" stroke-width="1"/>
<text id="last" x="1692.52" y="439.70" font-size="17" fill="#26a69a" textLength="64.37" lengthAdjust="spacingAndGlyphs" stroke="#26a69a" stroke-width="0.45">1.03402</text>
<g fill="#d9d9d9">
<path d="M14.9,873.9 H26.7 V888.9 H20.9 V879.9 H14.9 Z"/>
<circle cx="31.5" cy="877.4" r="3.15"/>
<path d="M37.9,874 H44.6 L38.8,888.9 H32 Z"/>
</g>
<text id="logo" x="49.19" y="889.70" font-size="19" fill="#d9d9d9" textLength="105.97" lengthAdjust="spacingAndGlyphs" stroke="#d9d9d9" stroke-width="0.45">TradingView</text>
</svg></body></html>
